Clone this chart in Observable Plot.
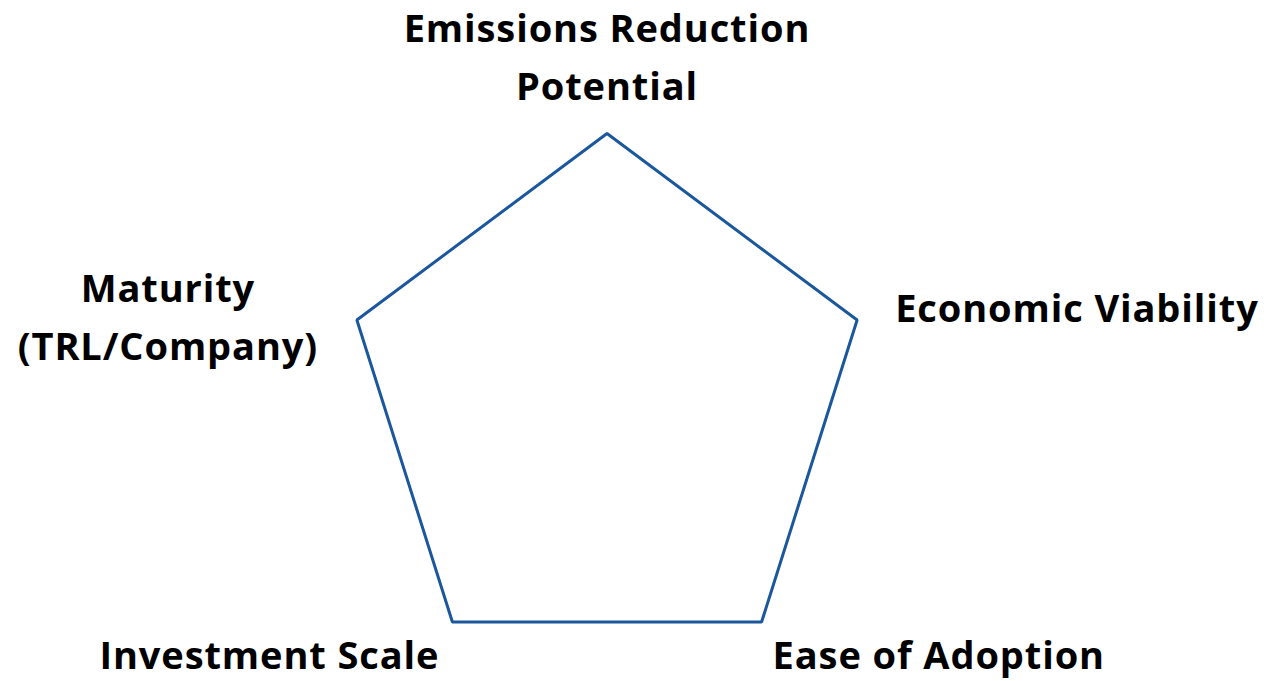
<!DOCTYPE html>
<html><head><meta charset="utf-8">
<script src="https://cdn.jsdelivr.net/npm/d3@7"></script>
<script src="https://cdn.jsdelivr.net/npm/@observablehq/plot@0.6"></script>
<style>html,body{margin:0;padding:0;background:#fff;overflow:hidden}</style>
</head><body><div id="chart"></div>
<script>
// Axes of the radar, clockwise from the top
const categories = ["Emissions Reduction\nPotential", "Economic Viability", "Ease of Adoption", "Investment Scale", "Maturity\n(TRL/Company)"];
// Series value on each axis (normalised, max = 1)
const values = [1, 1, 1, 1, 1];

const data = categories.map((c, i) => {
  const a = (i * 2 * Math.PI) / categories.length;
  return {category: c, value: values[i], x: values[i] * Math.sin(a), y: values[i] * Math.cos(a)};
});

// label placement styles per axis
const labelStyle = [
  {textAnchor: "middle", dx: 0, dy: -34},
  {textAnchor: "start", dx: 38, dy: 2},
  {textAnchor: "start", dx: 11, dy: 47},
  {textAnchor: "end", dx: -13, dy: 47},
  {textAnchor: "middle", dx: -189, dy: 40}
];

const W = 1264, H = 681;
const cx = 606.5, cy = 403, rx = 263, ry = 270;

const chart = Plot.plot({
  width: W, height: H,
  margin: 0,
  x: {domain: [-cx / rx, (W - cx) / rx], range: [0, W], axis: null},
  y: {domain: [(cy - H) / ry, cy / ry], range: [H, 0], axis: null},
  style: {background: "#fff", letterSpacing: "0.9px"},
  marks: [
    Plot.line(data, {x: "x", y: "y", curve: "linear-closed", stroke: "#1a579c", strokeWidth: 3, strokeLinejoin: "miter"}),
    ...data.map((d, i) => Plot.text([d], {
      x: "x", y: "y", text: "category",
      textAnchor: labelStyle[i].textAnchor, dx: labelStyle[i].dx, dy: labelStyle[i].dy,
      lineAnchor: "bottom", lineHeight: 1.526,
      fontSize: 38, fontWeight: "bold", fontFamily: "Open Sans", fill: "#000"
    }))
  ]
});
document.getElementById("chart").appendChild(chart);
</script>
</body></html>
